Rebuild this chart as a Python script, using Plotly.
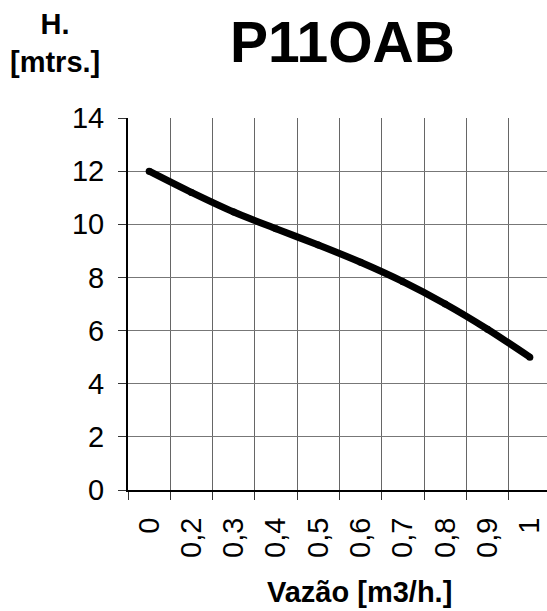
import plotly.graph_objects as go

categories = ["0", "0,2", "0,3", "0,4", "0,5", "0,6", "0,7", "0,8", "0,9", "1"]
head_m = [12.0, 11.2, 10.46, 9.83, 9.22, 8.57, 7.84, 7.0, 6.05, 5.0]
y_ticks = [0, 2, 4, 6, 8, 10, 12, 14]

W, H = 547, 611
L, R, T, B = 128, 0, 118, 121
pw, ph = W - L - R, H - T - B


def px(x):
    return (x - L) / pw


def py(y):
    return (H - B - y) / ph


fig = go.Figure()
fig.add_trace(go.Scatter(
    x=categories, y=head_m, mode="lines+markers",
    line=dict(color="black", width=7, shape="spline", smoothing=0.8),
    marker=dict(color="black", size=7),
    hoverinfo="skip", showlegend=False,
))

fnt = "Liberation Sans, Arial, sans-serif"
fig.update_layout(
    width=W, height=H,
    margin=dict(l=L, r=R, t=T, b=B, pad=0),
    paper_bgcolor="white", plot_bgcolor="white",
    font=dict(family=fnt, color="black"),
    showlegend=False,
    xaxis=dict(
        type="category", categoryorder="array", categoryarray=categories,
        range=[-0.5, -0.5 + pw / 42.3],
        tickson="boundaries", ticks="outside", ticklen=8, tickwidth=1, tickcolor="#333",
        showgrid=True, gridcolor="#666", gridwidth=1,
        showline=True, linecolor="black", linewidth=2,
        tickangle=-90, tickfont=dict(size=29, family=fnt, color="black"),
        ticklabelstandoff=14,
        zeroline=False, fixedrange=True, automargin=False,
    ),
    yaxis=dict(
        range=[0, 14], tickvals=y_ticks, ticktext=[str(v) for v in y_ticks],
        ticks="outside", ticklen=8, tickwidth=1, tickcolor="#333",
        showgrid=True, gridcolor="#777", gridwidth=1,
        showline=True, linecolor="black", linewidth=2,
        tickfont=dict(size=29, family=fnt, color="black"),
        ticklabelstandoff=8,
        zeroline=False, fixedrange=True, automargin=False,
    ),
    annotations=[
        dict(text="<b>P11OAB</b>", x=px(342), y=py(42), xref="paper", yref="paper",
             xanchor="center", yanchor="middle", showarrow=False,
             font=dict(size=57, family=fnt, color="black")),
        dict(text="<b>H.<br>[mtrs.]</b>", x=px(55), y=py(43), xref="paper", yref="paper",
             xanchor="center", yanchor="middle", showarrow=False,
             font=dict(size=29, family=fnt, color="black")),
        dict(text="<b>Vazão [m3/h.]</b>", x=px(359), y=py(592), xref="paper", yref="paper",
             xanchor="center", yanchor="middle", showarrow=False,
             font=dict(size=29, family=fnt, color="black")),
    ],
)

fig.write_html(
    "out.html",
    config={"displayModeBar": False, "staticPlot": True},
    post_script="document.body.style.margin='0';document.body.style.overflow='hidden';",
)
